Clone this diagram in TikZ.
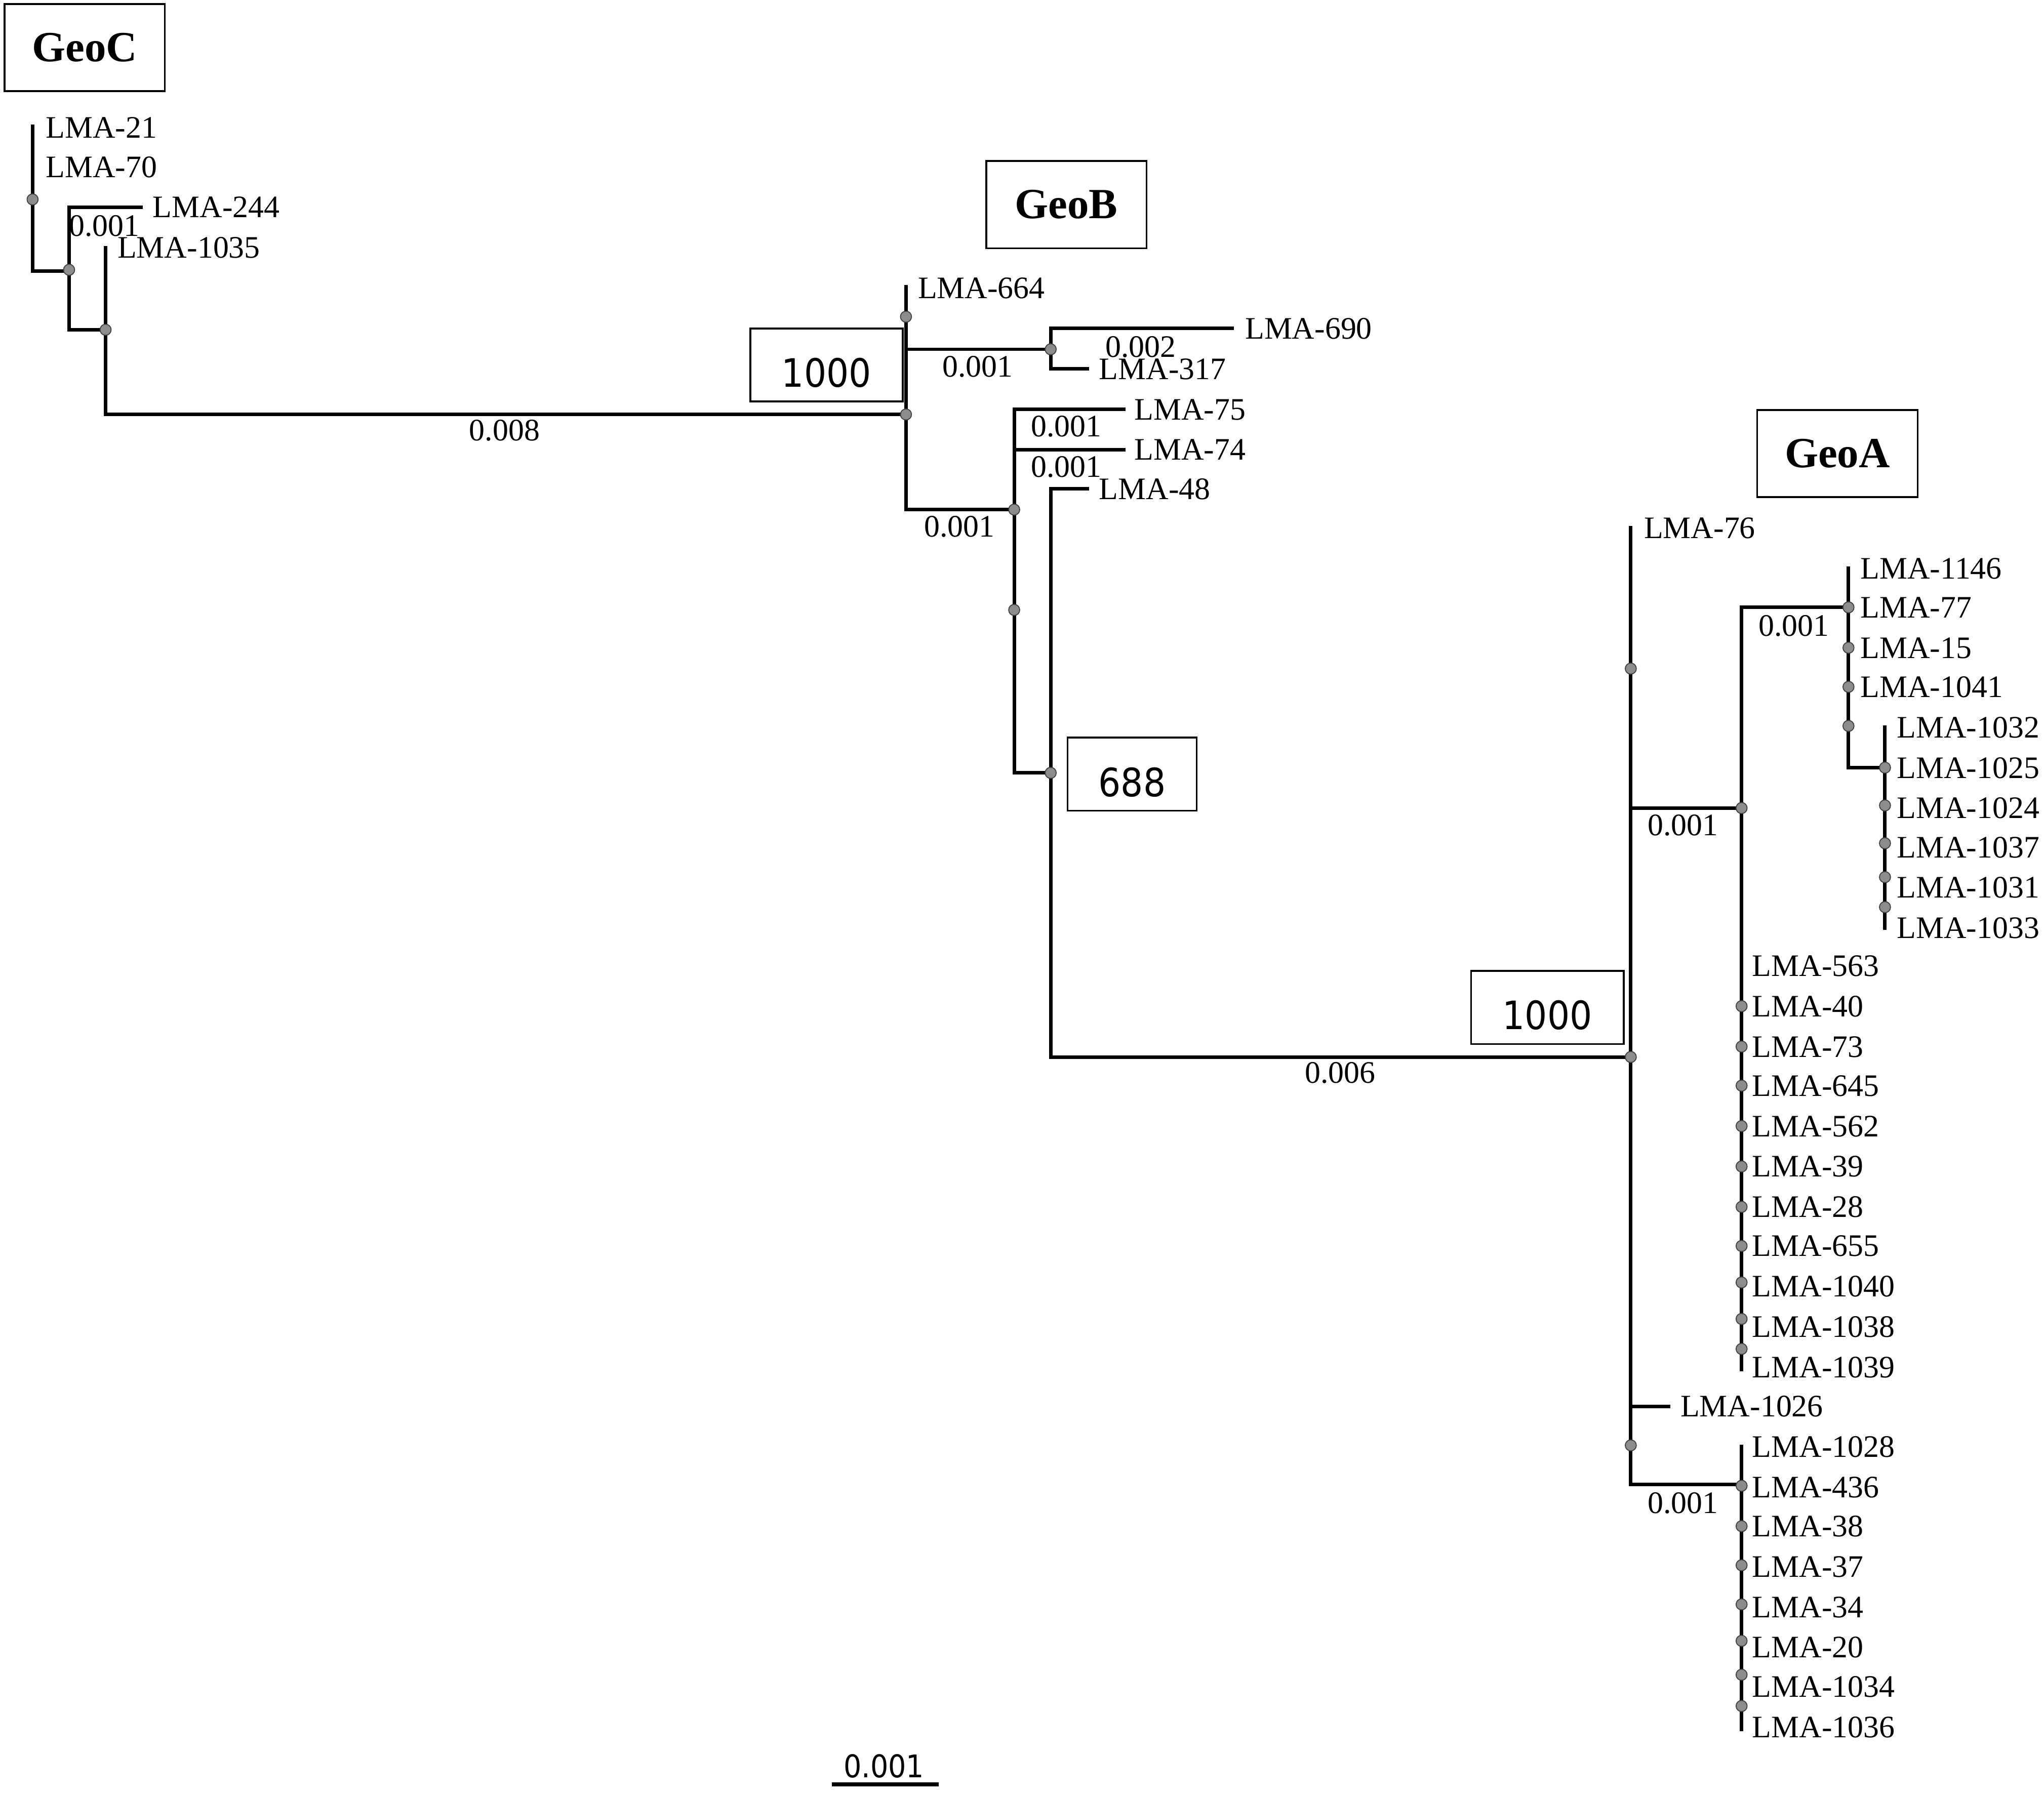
\documentclass[tikz,border=0pt]{standalone}
\usepackage{fontspec}
\setmainfont{Liberation Serif}
\newfontfamily\supfont[FakeStretch=0.9]{DejaVu Sans}
\begin{document}
\begin{tikzpicture}[x=1pt,y=-1pt,
  br/.style={line width=2.7pt, line cap=rect, line join=miter},
  lbl/.style={anchor=west, inner sep=0pt, text height=16pt, text depth=0pt, font=\fontsize{24}{28}\selectfont},
  blen/.style={anchor=center, inner sep=0pt, text height=16pt, text depth=0pt, font=\fontsize{24}{28}\selectfont},
  geo/.style={draw, line width=1.4pt, minimum width=123pt, minimum height=67pt, inner sep=0pt, font=\fontsize{33}{36}\selectfont\bfseries},
  boot/.style={draw, line width=1.4pt, minimum width=117pt, minimum height=56pt, inner sep=0pt, text height=34pt, text depth=0pt, font=\supfont\fontsize{30}{32}\selectfont},
  dot/.style={circle, fill=black!45, draw=black!75, line width=0.7pt, minimum size=8.5pt, inner sep=0pt}]
\useasboundingbox (0,0) rectangle (1568,1377);

% ---------- group boxes ----------
\node[geo] (geoC) at (65,36.5) {GeoC};
\node[geo] (geoB) at (818,157) {GeoB};
\node[geo] (geoA) at (1409.5,348) {GeoA};
\node[boot] (b1000a) at (634,280) {1000};
\node[boot, minimum width=99pt] (b688) at (868.5,594) {688};
\node[boot] (b1000b) at (1187,773) {1000};

% ---------- coordinates of the tree ----------
% GeoC
\coordinate (c21) at (25,97);
\coordinate (cA) at (53,208);
\coordinate (c244) at (108,159);
\coordinate (cB) at (53,253);
\coordinate (cC) at (81,253);
\coordinate (c1035) at (81,190);
\coordinate (root) at (695,318);
% GeoB
\coordinate (c664) at (695,220);
\coordinate (gB1) at (778,391);
\coordinate (gB2s) at (695,268);
\coordinate (gB2) at (806,268);
\coordinate (c690) at (945,252);
\coordinate (c317) at (834,283);
\coordinate (c75) at (862,314);
\coordinate (gB3) at (806,593);
\coordinate (c74s) at (778,345);
\coordinate (c74) at (862,345);
\coordinate (c48) at (834,375);
\coordinate (gA) at (1251,811);
% GeoA
\coordinate (c76) at (1251,405);
\coordinate (gA3) at (1336,1139);
\coordinate (gA1s) at (1251,620);
\coordinate (gA1) at (1336,620);
\coordinate (gA2) at (1418,466);
\coordinate (gAend) at (1336,1051);
\coordinate (c1146) at (1418,436);
\coordinate (gA4) at (1446,589);
\coordinate (c1032) at (1446,558);
\coordinate (c1033) at (1446,712);
\coordinate (c1026s) at (1251,1079);
\coordinate (c1026) at (1280,1079);
\coordinate (c1028) at (1336,1110);
\coordinate (c1036) at (1336,1327);

% ---------- branches ----------
\draw[br] (c21) |- (cA);
\draw[br] (c244) -| (cB) -- (cC);
\draw[br] (c1035) |- (root);
\draw[br] (c664) |- (gB1);
\draw[br] (gB2s) -- (gB2);
\draw[br] (c690) -| (gB2) |- (c317);
\draw[br] (c75) -| (gB1) |- (gB3);
\draw[br] (c74s) -- (c74);
\draw[br] (c48) -| (gB3) |- (gA);
\draw[br] (c76) |- (gA3);
\draw[br] (gA1s) -- (gA1);
\draw[br] (gA2) -| (gAend);
\draw[br] (c1146) |- (gA4);
\draw[br] (c1032) -- (c1033);
\draw[br] (c1026s) -- (c1026);
\draw[br] (c1028) -- (c1036);

% scale bar
\coordinate (sb1) at (638,1369);
\coordinate (sb2) at (720,1369);
\draw[line width=3pt] (sb1) -- (sb2);
\node[inner sep=0pt, font=\supfont\fontsize{24}{26}\selectfont] (sbl) at (678,1355) {0.001};

% ---------- node dots ----------
\foreach \x/\y [count=\i] in {25/153, 53/207, 81/253, 695/243, 695/318, 806/268, 778/391, 778/468, 806/593,
  1251/513, 1251/811, 1251/1109, 1336/620,
  1418/466, 1418/497, 1418/527, 1418/557,
  1446/589, 1446/618, 1446/647, 1446/673, 1446/696,
  1336/772, 1336/803, 1336/833, 1336/864, 1336/895, 1336/926, 1336/956, 1336/984, 1336/1012, 1336/1035,
  1336/1140, 1336/1171, 1336/1201, 1336/1231, 1336/1259, 1336/1285, 1336/1309}
  \node[dot] (dot\i) at (\x,\y) {};

% ---------- leaf labels ----------
\node[lbl] (l21) at (35,98) {LMA-21};
\node[lbl] (l70) at (35,128) {LMA-70};
\node[lbl] (l244) at (117,159) {LMA-244};
\node[lbl] (l1035) at (90,190) {LMA-1035};
\node[lbl] (l664) at (704,221) {LMA-664};
\node[lbl] (l690) at (955,252) {LMA-690};
\node[lbl] (l317) at (843,283) {LMA-317};
\node[lbl] (l75) at (870,314) {LMA-75};
\node[lbl] (l74) at (870,345) {LMA-74};
\node[lbl] (l48) at (843,375) {LMA-48};
\node[lbl] (l76) at (1261,405) {LMA-76};
\node[lbl] (l1026) at (1289,1079) {LMA-1026};
\foreach \t/\y in {1146/436, 77/466, 15/497, 1041/527}
  \node[lbl] (lA\t) at (1427,\y) {LMA-\t};
\foreach \t/\y in {1032/558, 1025/589, 1024/620, 1037/650, 1031/681, 1033/712}
  \node[lbl] (lB\t) at (1455,\y) {LMA-\t};
\foreach \t/\y in {563/741, 40/772, 73/803, 645/833, 562/864, 39/895, 28/926, 655/956, 1040/987, 1038/1018, 1039/1049,
  1028/1110, 436/1141, 38/1171, 37/1202, 34/1233, 20/1264, 1034/1294, 1036/1325}
  \node[lbl] (lC\t) at (1344,\y) {LMA-\t};

% ---------- branch lengths ----------
\node[blen] (bl1) at (80,173) {0.001};
\node[blen] (bl2) at (387,330) {0.008};
\node[blen] (bl3) at (750,281) {0.001};
\node[blen] (bl4) at (875,266) {0.002};
\node[blen] (bl5) at (818,327) {0.001};
\node[blen] (bl6) at (818,358) {0.001};
\node[blen] (bl7) at (736,404) {0.001};
\node[blen] (bl8) at (1028,823) {0.006};
\node[blen] (bl9) at (1291,633) {0.001};
\node[blen] (bl10) at (1376,480) {0.001};
\node[blen] (bl11) at (1291,1153) {0.001};
\end{tikzpicture}
\end{document}
